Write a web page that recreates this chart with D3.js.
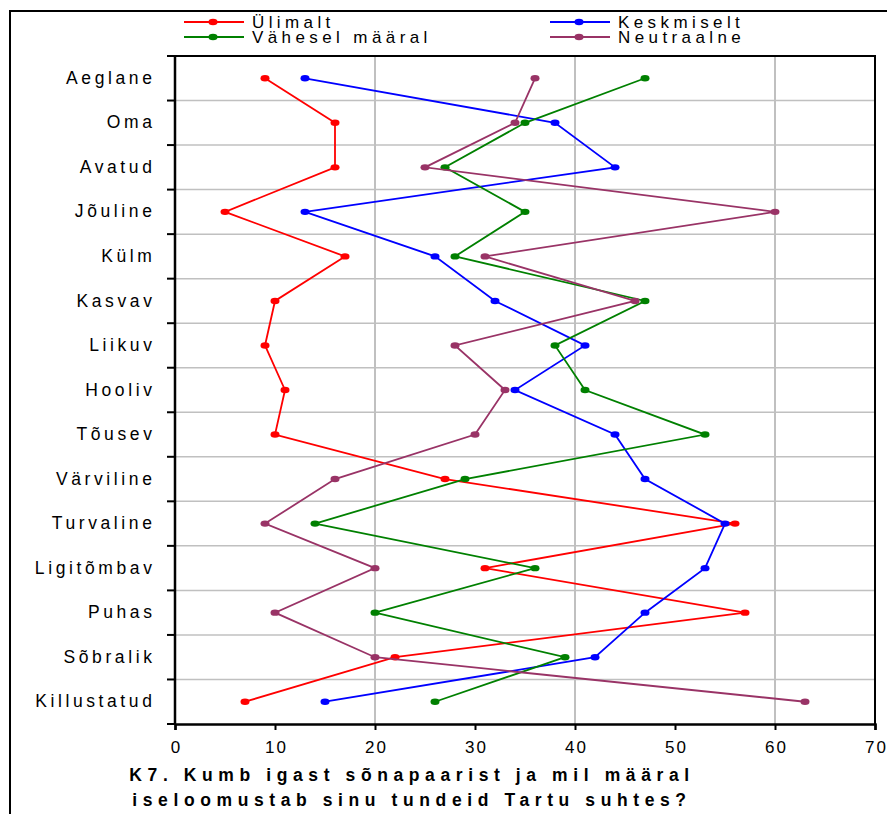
<!DOCTYPE html>
<html>
<head>
<meta charset="utf-8">
<script src="https://cdn.jsdelivr.net/npm/d3@7/dist/d3.min.js"></script>
<style>
  html, body { margin: 0; padding: 0; background: #fff; }
  svg { display: block; font-family: "Liberation Sans", Arial, sans-serif; }
</style>
</head>
<body>
<svg id="chart" width="887" height="814"></svg>
<script>
const categories = ["Aeglane","Oma","Avatud","Jõuline","Külm","Kasvav","Liikuv","Hooliv","Tõusev","Värviline","Turvaline","Ligitõmbav","Puhas","Sõbralik","Killustatud"];
const ulimalt   = [9, 16, 16, 5, 17, 10, 9, 11, 10, 27, 56, 31, 57, 22, 7];
const keskmiselt = [13, 38, 44, 13, 26, 32, 41, 34, 44, 47, 55, 53, 47, 42, 15];
const vahesel   = [47, 35, 27, 35, 28, 47, 38, 41, 53, 29, 14, 36, 20, 39, 26];
const neutraalne = [36, 34, 25, 60, 31, 46, 28, 33, 30, 16, 9, 20, 10, 20, 63];
const seriesNames = ["Ülimalt", "Keskmiselt", "Vähesel määral", "Neutraalne"];
const xTicks = [0, 10, 20, 30, 40, 50, 60, 70];
const gridValues = [20, 40, 60];
const titleLines = ["K7. Kumb igast sõnapaarist ja mil määral", "iseloomustab sinu tundeid Tartu suhtes?"];

const colors = {"Ülimalt": "#ff0000", "Keskmiselt": "#0000ff", "Vähesel määral": "#008000", "Neutraalne": "#993366"};
const series = [
  {name: "Ülimalt", values: ulimalt},
  {name: "Keskmiselt", values: keskmiselt},
  {name: "Vähesel määral", values: vahesel},
  {name: "Neutraalne", values: neutraalne}
];

const svg = d3.select("#chart");
const L = 175, R = 875, T = 56, B = 724;

svg.append("rect").attr("width", 887).attr("height", 814).attr("fill", "#fff");

// outer frame
svg.append("path").attr("d", "M10,814 L10,11 L887,11").attr("fill", "none").attr("stroke", "#000").attr("stroke-width", 2);

const x = d3.scaleLinear().domain([0, 70]).range([L, R]);
const y = d3.scaleBand().domain(categories).range([T, B]).padding(0);
const yc = c => y(c) + y.bandwidth() / 2;

// grid: horizontal at category boundaries
const boundaries = categories.slice(1).map(c => y(c));
svg.append("g").selectAll("line").data(boundaries).join("line")
  .attr("x1", L).attr("x2", R).attr("y1", d => d).attr("y2", d => d)
  .attr("stroke", "#c0c0c0").attr("stroke-width", 1.5);
// vertical grid
svg.append("g").selectAll("line").data(gridValues).join("line")
  .attr("x1", d => x(d)).attr("x2", d => x(d)).attr("y1", T).attr("y2", B)
  .attr("stroke", "#c0c0c0").attr("stroke-width", 2);

// plot border top/right
svg.append("path").attr("d", `M${L},${T} L${R},${T} L${R},${B}`).attr("fill", "none").attr("stroke", "#000").attr("stroke-width", 2);

// x axis
const xAxis = d3.axisBottom(x).tickValues(xTicks).tickSize(6).tickPadding(11).tickFormat(d3.format("d"));
const gx = svg.append("g").attr("transform", `translate(0,${B})`).call(xAxis);
gx.select(".domain").attr("stroke", "#000").attr("stroke-width", 2.5);
gx.selectAll(".tick line").attr("stroke", "#000").attr("stroke-width", 2);
gx.selectAll(".tick text").attr("font-size", 17).attr("font-family", "Liberation Sans, Arial, sans-serif")
  .attr("fill", "#000").style("letter-spacing", "2px").attr("dx", "1px");

// y axis labels
const yAxis = d3.axisLeft(y).tickSize(0).tickPadding(19.5);
const gy = svg.append("g").attr("transform", `translate(${L},0)`).call(yAxis);
gy.select(".domain").remove();
gy.selectAll(".tick text").attr("font-size", 17.5).attr("font-family", "Liberation Sans, Arial, sans-serif")
  .attr("fill", "#000").style("letter-spacing", "3.6px");
// y axis line and boundary ticks
svg.append("line").attr("x1", L).attr("x2", L).attr("y1", T).attr("y2", B + 1).attr("stroke", "#000").attr("stroke-width", 2.5);
const yTickPos = [T].concat(boundaries).concat([B]);
svg.append("g").selectAll("line").data(yTickPos).join("line")
  .attr("x1", L - 8).attr("x2", L).attr("y1", d => d).attr("y2", d => d)
  .attr("stroke", "#000").attr("stroke-width", 2);

// series lines and markers
const line = d3.line().x(d => x(d.v)).y(d => yc(d.c));
series.forEach(s => {
  const pts = s.values.map((v, i) => ({v, c: categories[i]}));
  svg.append("path").datum(pts).attr("d", line)
    .attr("fill", "none").attr("stroke", colors[s.name]).attr("stroke-width", 1.8);
  svg.append("g").selectAll("ellipse").data(pts).join("ellipse")
    .attr("cx", d => x(d.v)).attr("cy", d => yc(d.c)).attr("rx", 4.5).attr("ry", 3.2)
    .attr("fill", colors[s.name]);
});

// legend
const legendPos = [
  {name: "Ülimalt", lx: 184, ly: 22},
  {name: "Keskmiselt", lx: 550, ly: 22},
  {name: "Vähesel määral", lx: 184, ly: 37},
  {name: "Neutraalne", lx: 550, ly: 37}
];
const lg = svg.append("g").selectAll("g").data(legendPos).join("g");
lg.append("line").attr("x1", d => d.lx).attr("x2", d => d.lx + 60).attr("y1", d => d.ly).attr("y2", d => d.ly)
  .attr("stroke", d => colors[d.name]).attr("stroke-width", 1.8);
lg.append("ellipse").attr("cx", d => d.lx + 29).attr("cy", d => d.ly).attr("rx", 4.5).attr("ry", 3.2)
  .attr("fill", d => colors[d.name]);
lg.append("text").attr("x", d => d.lx + 68).attr("y", d => d.ly + 6).attr("font-size", 17)
  .style("letter-spacing", "4.4px").attr("fill", "#000").text(d => d.name);

// title
svg.append("g").selectAll("text").data(titleLines).join("text")
  .attr("x", 412).attr("y", (d, i) => 781 + i * 25).attr("text-anchor", "middle")
  .attr("font-size", 17.5).attr("font-weight", "bold").style("letter-spacing", "5.6px")
  .attr("fill", "#000").text(d => d);
</script>
</body>
</html>
